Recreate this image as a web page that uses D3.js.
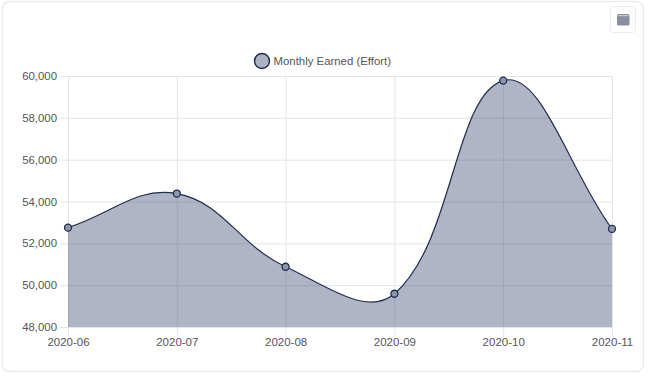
<!DOCTYPE html>
<html><head><meta charset="utf-8">
<script src="https://d3js.org/d3.v7.min.js"></script>
<style>html,body{margin:0;padding:0;background:#fff;overflow:hidden}svg{display:block}text{font-family:"Liberation Sans",Arial,sans-serif;fill:#555;font-size:11.4px}</style>
</head><body><svg id="c" width="649" height="378"></svg>
<script>
const categories=["2020-06","2020-07","2020-08","2020-09","2020-10","2020-11"];
const values=[52750,54380,50880,49590,59780,52690];
const yTicks=[48000,50000,52000,54000,56000,58000,60000];
const seriesName="Monthly Earned (Effort)";
const svg=d3.select("#c");
const x=d3.scalePoint().domain(categories).range([68,612]);
const y=d3.scaleLinear().domain([48000,60000]).range([327,76]);
const font='"Liberation Sans",Arial,sans-serif';
// Spline with distance-weighted control points, tension 0.4
function weightedSpline(context){
  const tension=0.4;let pts;let lineState;
  return {
    areaStart(){lineState=0;},
    areaEnd(){lineState=NaN;},
    lineStart(){pts=[];},
    point(a,b){pts.push([+a,+b]);},
    lineEnd(){
      const n=pts.length;
      const ctrl=pts.map((p,i)=>{
        const pr=pts[Math.max(i-1,0)],nx=pts[Math.min(i+1,n-1)];
        const d1=Math.hypot(p[0]-pr[0],p[1]-pr[1]),d2=Math.hypot(nx[0]-p[0],nx[1]-p[1]);
        const s=d1+d2||1,fa=tension*d1/s,fb=tension*d2/s;
        return {p:[p[0]-fa*(nx[0]-pr[0]),p[1]-fa*(nx[1]-pr[1])],n:[p[0]+fb*(nx[0]-pr[0]),p[1]+fb*(nx[1]-pr[1])]};
      });
      pts.forEach((p,i)=>{
        if(i===0){ if(lineState===1) context.lineTo(p[0],p[1]); else context.moveTo(p[0],p[1]); }
        else context.bezierCurveTo(ctrl[i-1].n[0],ctrl[i-1].n[1],ctrl[i].p[0],ctrl[i].p[1],p[0],p[1]);
      });
      if(lineState===0) lineState=1; else if(lineState===1) context.closePath();
    }
  };
}
// card
svg.append("rect").attr("x",2.5).attr("y",1.5).attr("width",641).attr("height",370).attr("rx",7).attr("fill","#fff").attr("stroke","#ebebeb").attr("stroke-width",1.5);
// button
svg.append("rect").attr("x",610.5).attr("y",6.5).attr("width",25).attr("height",26).attr("rx",3).attr("fill","#fff").attr("stroke","#ececec");
svg.append("rect").attr("x",617).attr("y",14).attr("width",12.5).attr("height",11.5).attr("rx",1.5).attr("fill","#8a8e9e");
svg.append("rect").attr("x",618).attr("y",15.2).attr("width",10.5).attr("height",1).attr("fill","#d5d7de");
const grid="#e4e4e4";
// grid + axes
const yAxis=d3.axisLeft(y).tickValues(yTicks).tickFormat(d3.format(",")).tickSize(0).tickPadding(11);
const gy=svg.append("g").attr("transform","translate(68,0)").call(yAxis);
gy.select(".domain").remove();
gy.selectAll("text").style("font-size","11.4px").style("fill","#555").style("font-family",font);
gy.selectAll(".tick").append("line").attr("x1",-8).attr("x2",544).attr("stroke",grid);
const xAxis=d3.axisBottom(x).tickSize(0).tickPadding(11);
const gx=svg.append("g").attr("transform","translate(0,327)").call(xAxis);
gx.select(".domain").remove();
gx.selectAll("text").style("font-size","11.5px").style("fill","#555").style("font-family",font);
gx.selectAll(".tick").append("line").attr("y1",-251).attr("y2",8).attr("stroke",grid);
// area + line
const area=d3.area().x((d,i)=>x(categories[i])).y0(y(48000)).y1(d=>y(d)).curve(weightedSpline);
const line=d3.line().x((d,i)=>x(categories[i])).y(d=>y(d)).curve(weightedSpline);
svg.append("path").attr("d",area(values)).attr("fill","rgba(50,64,105,0.39)");
svg.append("path").attr("d",line(values)).attr("fill","none").attr("stroke","#1f2d52").attr("stroke-width",1.2);
svg.append("g").selectAll("circle").data(values).join("circle")
 .attr("cx",(d,i)=>x(categories[i])).attr("cy",d=>y(d)).attr("r",3.5)
 .attr("fill","#8f96aa").attr("stroke","#1f2d52").attr("stroke-width",1.3);
// legend
svg.append("circle").attr("cx",262).attr("cy",61).attr("r",7.5).attr("fill","#adb2c2").attr("stroke","#1f2d52").attr("stroke-width",1.5);
svg.append("text").attr("x",273.5).attr("y",65).text(seriesName);
</script></body></html>
